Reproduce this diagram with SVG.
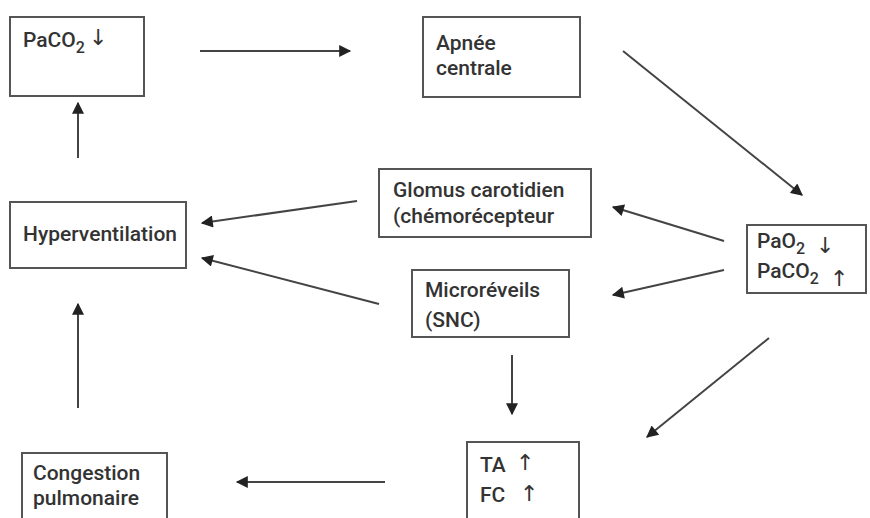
<svg xmlns="http://www.w3.org/2000/svg" width="870" height="518" viewBox="0 0 870 518">
<style>
.box{fill:#fff;stroke:#555;stroke-width:2}
.t{font-family:Roboto,"Liberation Sans",sans-serif;font-size:21px;font-weight:500;fill:#333}
.sub{font-size:16px}
.ar{font-family:"DejaVu Sans",sans-serif;font-size:22px;fill:#333}
.c{stroke:#444;stroke-width:2;fill:none;marker-end:url(#ah)}
</style>
<defs>
<marker id="ah" viewBox="0 0 10 10" refX="9" refY="5" markerWidth="14" markerHeight="12" markerUnits="userSpaceOnUse" orient="auto">
<path d="M0,0 L10,5 L0,10 z" fill="#222"/>
</marker>
</defs>
<rect width="870" height="518" fill="#fff"/>
<g id="connectors">
<line class="c" x1="200" y1="51" x2="350" y2="51"/>
<line class="c" x1="623" y1="51" x2="802" y2="195"/>
<line class="c" x1="724" y1="241" x2="613" y2="207"/>
<line class="c" x1="724" y1="270" x2="613" y2="295"/>
<line class="c" x1="769" y1="338" x2="647" y2="437"/>
<line class="c" x1="357" y1="201" x2="202" y2="223"/>
<line class="c" x1="379" y1="304" x2="202" y2="258"/>
<line class="c" x1="512" y1="355" x2="512" y2="414"/>
<line class="c" x1="385" y1="482" x2="237" y2="482"/>
<line class="c" x1="78" y1="408" x2="78" y2="304"/>
<line class="c" x1="78" y1="158" x2="78" y2="103"/>
</g>
<g id="paco2-down">
<rect class="box" x="10" y="17" width="134" height="79"/>
<text class="t" x="23" y="47">PaCO<tspan class="sub" dy="6">2</tspan></text>
<text class="ar" x="89" y="45">↓</text>
</g>
<g id="apnee">
<rect class="box" x="423" y="17" width="157" height="80"/>
<text class="t" x="436" y="50">Apnée</text>
<text class="t" x="436" y="75">centrale</text>
</g>
<g id="glomus">
<rect class="box" x="379" y="169" width="212" height="68"/>
<text class="t" x="393" y="197">Glomus carotidien</text>
<text class="t" x="393" y="223">(chémorécepteur</text>
</g>
<g id="microreveils">
<rect class="box" x="412" y="270" width="157" height="67"/>
<text class="t" x="425" y="297">Microréveils</text>
<text class="t" x="425" y="327">(SNC)</text>
</g>
<g id="pao2">
<rect class="box" x="747" y="225" width="119" height="68"/>
<text class="t" x="757" y="248">PaO<tspan class="sub" dy="6">2</tspan></text>
<text class="ar" x="816" y="253">↓</text>
<text class="t" x="757" y="278">PaCO<tspan class="sub" dy="6">2</tspan></text>
<text class="ar" x="830" y="286">↑</text>
</g>
<g id="hyperventilation">
<rect class="box" x="10" y="202" width="176" height="66"/>
<text class="t" x="23" y="241">Hyperventilation</text>
</g>
<g id="congestion">
<rect class="box" x="22" y="453" width="145" height="70"/>
<text class="t" x="33" y="480">Congestion</text>
<text class="t" x="33" y="505">pulmonaire</text>
</g>
<g id="ta-fc">
<rect class="box" x="467" y="442" width="112" height="80"/>
<text class="t" x="480" y="472">TA</text>
<text class="ar" x="516" y="470">↑</text>
<text class="t" x="480" y="502">FC</text>
<text class="ar" x="520" y="501">↑</text>
</g>
</svg>
